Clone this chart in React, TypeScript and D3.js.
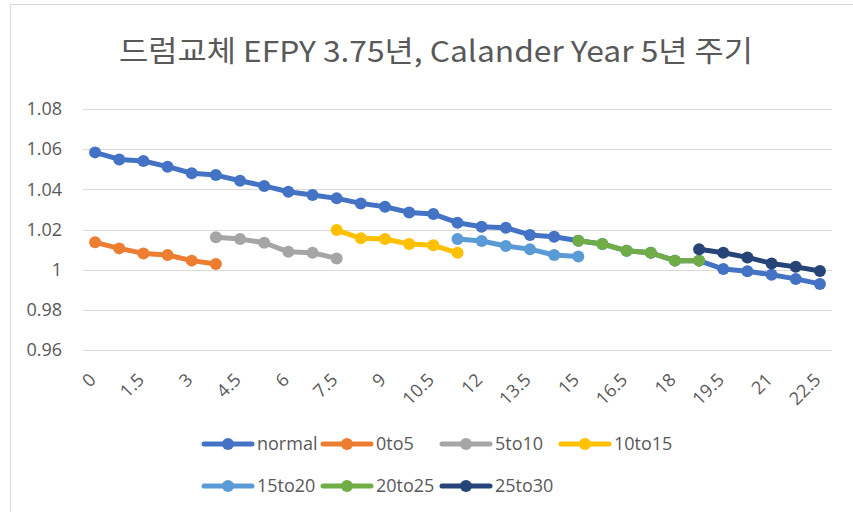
import React from "react";
import * as d3 from "d3";

const categories = [
  "0", "0.75", "1.5", "2.25", "3", "3.75", "4.5", "5.25", "6", "6.75", "7.5",
  "8.25", "9", "9.75", "10.5", "11.25", "12", "12.75", "13.5", "14.25", "15",
  "15.75", "16.5", "17.25", "18", "18.75", "19.5", "20.25", "21", "21.75", "22.5",
];
const yTicks = [0.96, 0.98, 1, 1.02, 1.04, 1.06, 1.08];

const normal = [
  1.0584, 1.0549, 1.0541, 1.0513, 1.048, 1.0471, 1.0443, 1.0417, 1.0388, 1.0372, 1.0355,
  1.033, 1.0313, 1.0285, 1.0277, 1.0234, 1.0214, 1.0209, 1.0173, 1.0164, 1.0144,
  1.0128, 1.0094, 1.0084, 1.0045, 1.0045, 1.0003, 0.9992, 0.9975, 0.9954, 0.9929,
];
const s0to5 = [1.0136, 1.0106, 1.0081, 1.0073, 1.0045, 1.0028];
const s5to10 = [1.0161, 1.0153, 1.0134, 1.0089, 1.0084, 1.0056];
const s10to15 = [1.0197, 1.0156, 1.0153, 1.0128, 1.0121, 1.0084];
const s15to20 = [1.0153, 1.0143, 1.0118, 1.0102, 1.0073, 1.0065];
const s20to25 = [1.0144, 1.0128, 1.0094, 1.0084, 1.0045, 1.0045];
const s25to30 = [1.0102, 1.0084, 1.0061, 1.0031, 1.0014, 0.9993];

const seriesNames = ["normal", "0to5", "5to10", "10to15", "15to20", "20to25", "25to30"];
const seriesStart = [0, 0, 5, 10, 15, 20, 25];
const seriesValues = [normal, s0to5, s5to10, s10to15, s15to20, s20to25, s25to30];
const colors = ["#4472C4", "#ED7D31", "#A5A5A5", "#FFC000", "#5B9BD5", "#70AD47", "#264478"];

const W = 853;
const H = 512;
const plot = { left: 83, right: 832, top: 109, bottom: 350 };
const textColor = "#595959";
const font = "'Open Sans', 'Noto Sans CJK KR', sans-serif";

export default function App() {
  const x = d3
    .scaleBand<string>()
    .domain(categories)
    .range([plot.left, plot.right])
    .paddingInner(0)
    .paddingOuter(0);
  const y = d3.scaleLinear().domain([0.96, 1.08]).range([plot.bottom, plot.top]);
  const cx = (c: string) => (x(c) as number) + x.bandwidth() / 2;

  const line = d3
    .line<{ c: string; v: number }>()
    .x((d) => cx(d.c))
    .y((d) => y(d.v));

  const series = seriesNames.map((name, i) => ({
    name,
    color: colors[i],
    points: seriesValues[i].map((v, j) => ({ c: categories[seriesStart[i] + j], v })),
  }));

  const legendRows = [
    [0, 1, 2, 3],
    [4, 5, 6],
  ];
  const legendRowY = [444, 486];
  const legendColX = [204, 323, 442, 561];

  return (
    <svg
      width={W}
      height={H}
      style={{ position: "absolute", left: 0, top: 0, background: "#fff" }}
      fontFamily={font}
    >
      <rect x={0} y={0} width={W} height={H} fill="#fff" />
      <rect x={10.5} y={4.5} width={W + 20} height={H + 20} fill="none" stroke="#D9D9D9" strokeWidth={1} />
      <text
        x={436}
        y={62}
        textAnchor="middle"
        fontSize={29}
        fill={textColor}
        fontFamily="'Noto Sans CJK KR', sans-serif"
        textLength={634}
        lengthAdjust="spacingAndGlyphs"
      >
        드럼교체 EFPY 3.75년, Calander Year 5년 주기
      </text>
      {yTicks.map((t) => (
        <g key={t}>
          <line
            x1={plot.left}
            x2={plot.right}
            y1={Math.round(y(t)) + 0.5}
            y2={Math.round(y(t)) + 0.5}
            stroke="#D9D9D9"
            strokeWidth={1}
          />
          <text x={62} y={y(t)} dy="0.35em" textAnchor="end" fontSize={18} fill={textColor}>
            {d3.format("")(t)}
          </text>
        </g>
      ))}
      {categories.map((c, i) =>
        i % 2 === 0 ? (
          <text
            key={c}
            transform={`translate(${cx(c) - 2.5},${376.5}) rotate(-45)`}
            textAnchor="end"
            dy="0.35em"
            fontSize={18}
            fill={textColor}
          >
            {c}
          </text>
        ) : null
      )}
      {series.map((s) => (
        <g key={s.name}>
          <path
            d={line(s.points) || ""}
            fill="none"
            stroke={s.color}
            strokeWidth={5}
            strokeLinejoin="round"
            strokeLinecap="round"
          />
          {s.points.map((p) => (
            <circle key={p.c} cx={cx(p.c)} cy={y(p.v)} r={6} fill={s.color} />
          ))}
        </g>
      ))}
      {legendRows.map((row, ri) =>
        row.map((si, ci) => (
          <g key={si} transform={`translate(${legendColX[ci]},${legendRowY[ri]})`}>
            <line x1={0} x2={48} y1={0} y2={0} stroke={colors[si]} strokeWidth={5} strokeLinecap="round" />
            <circle cx={24} cy={0} r={6} fill={colors[si]} />
            <text x={53} y={0} dy="0.35em" fontSize={18} fill={textColor}>
              {seriesNames[si]}
            </text>
          </g>
        ))
      )}
    </svg>
  );
}
